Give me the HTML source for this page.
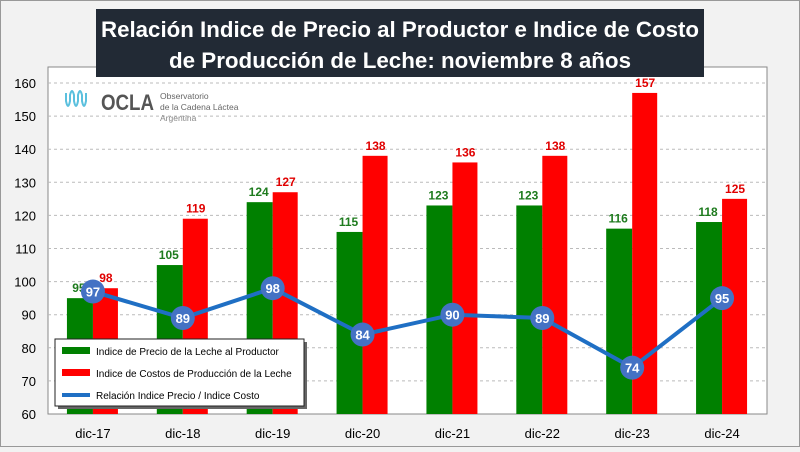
<!DOCTYPE html>
<html><head><meta charset="utf-8"><style>
body{margin:0;width:800px;height:447px;overflow:hidden;background:#f2f2f2;font-family:"Liberation Sans",sans-serif}
</style></head><body>
<svg id="c" width="800" height="447" xmlns="http://www.w3.org/2000/svg">
<rect x="0.5" y="0.5" width="799" height="446" fill="#f2f2f2" stroke="#999"/>
<rect x="48" y="67" width="719" height="347" fill="#fff" stroke="#888"/>
<g id="grid"></g><g id="bars"></g><g id="line"></g><g id="axes"></g>
<g>
<rect x="96" y="9" width="608" height="68" fill="#222a35"/>
<text x="101" y="37" fill="#fff" font-size="22" font-weight="bold" textLength="598" lengthAdjust="spacingAndGlyphs">Relación Indice de Precio al Productor e Indice de Costo</text>
<text x="169" y="68" fill="#fff" font-size="22" font-weight="bold" textLength="462" lengthAdjust="spacingAndGlyphs">de Producción de Leche: noviembre 8 años</text>
</g>
<g>
<path d="M66 93 v8 q2 10 4 0 v-6 q2 -8 4 0 v6 q2 10 4 0 v-6 q2 -8 4 0 v6 q2 10 4 0 v-8" fill="none" stroke="#5bc0de" stroke-width="2"/>
<text x="101" y="110" font-size="22" fill="#555" font-weight="bold" textLength="53" lengthAdjust="spacingAndGlyphs">OCLA</text>
<text x="160" y="99" font-size="8.5" fill="#666">Observatorio</text>
<text x="160" y="110" font-size="8.5" fill="#666">de la Cadena Láctea</text>
<text x="160" y="121" font-size="8.5" fill="#888">Argentina</text>
</g>
<g>
<rect x="58" y="342" width="249" height="67" fill="#666"/>
<rect x="55" y="339" width="249" height="67" fill="#fff" stroke="#222"/>
<rect x="62" y="347" width="28" height="7" fill="#008000"/>
<text x="96" y="355" font-size="10" fill="#000">Indice de Precio de la Leche al Productor</text>
<rect x="62" y="369" width="28" height="7" fill="#ff0000"/>
<text x="96" y="377" font-size="10" fill="#000">Indice de Costos de Producción de la Leche</text>
<line x1="62" y1="395" x2="90" y2="395" stroke="#1f6fc4" stroke-width="4"/>
<text x="96" y="399" font-size="10" fill="#000">Relación Indice Precio / Indice Costo</text>
</g>
</svg>
<script>
const categories=["dic-17","dic-18","dic-19","dic-20","dic-21","dic-22","dic-23","dic-24"];
const precio=[95,105,124,115,123,123,116,118];
const costo=[98,119,127,138,136,138,157,125];
const relacion=[97,89,98,84,90,89,74,95];
const yTicks=[60,70,80,90,100,110,120,130,140,150,160];
const NS="http://www.w3.org/2000/svg";
const L=48,R=767,T=67,B=414,ymin=60,ymax=160;
const bw=(R-L)/categories.length;
const y=v=>B-(v-ymin)/(ymax-ymin)*(B-83);
const xc=i=>L+bw*(i+0.5);
function mk(p,tag,a,txt){const e=document.createElementNS(NS,tag);for(const k in a)e.setAttribute(k,a[k]);if(txt!==undefined)e.textContent=txt;document.getElementById(p).appendChild(e);return e;}
yTicks.forEach(t=>{
 if(t>ymin){const g=mk('grid','line',{x1:L,x2:R,y1:y(t),y2:y(t),stroke:'#bbb','stroke-dasharray':'3,3'});
 
 }
 const e=mk('axes','text',{x:36,y:y(t)+5,'text-anchor':'end','font-size':13,fill:'#000'},t);
 
 
});
categories.forEach((c,i)=>{
 const x=xc(i);
 const e=mk('axes','text',{x:x,y:438,'text-anchor':'middle','font-size':13,fill:'#000'},c);
 
 
 const g=mk('bars','rect',{x:x-26,y:y(precio[i]),width:26,height:B-y(precio[i]),fill:'#008000'});
 
 
 const r=mk('bars','rect',{x:x,y:y(costo[i]),width:25,height:B-y(costo[i]),fill:'#ff0000'});
 
 
 const gl=mk('bars','text',{x:x-14,y:y(precio[i])-6,'text-anchor':'middle','font-size':12,'font-weight':'bold',fill:'#1e7b1e'},precio[i]);
 
 
 const rl=mk('bars','text',{x:x+13,y:y(costo[i])-6,'text-anchor':'middle','font-size':12,'font-weight':'bold',fill:'#e00000'},costo[i]);
 
 
});
const pl=mk('line','polyline',{points:relacion.map((v,i)=>xc(i)+','+y(v)).join(' '),fill:'none',stroke:'#1f6fc4','stroke-width':4});


relacion.forEach((v,i)=>{
 const c=mk('line','circle',{cx:xc(i),cy:y(v),r:12,fill:'#4472c4'});
 
 
 const t=mk('line','text',{x:xc(i),y:y(v)+5,'text-anchor':'middle','font-size':13,'font-weight':'bold',fill:'#fff'},v);
 
 
});
</script>
</body></html>
